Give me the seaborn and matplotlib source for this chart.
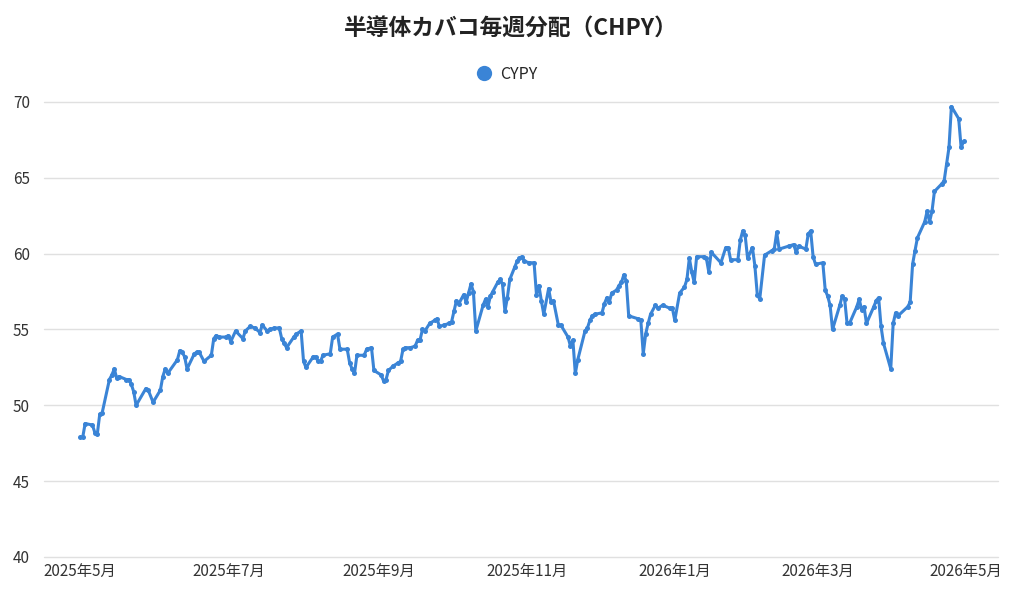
import matplotlib
matplotlib.use("Agg")
import matplotlib.pyplot as plt
from matplotlib.lines import Line2D
import pandas as pd
import seaborn as sns

# 半導体カバコ毎週分配 (CHPY) price
dates = [
    "2025-05-01", "2025-05-02", "2025-05-03", "2025-05-06", "2025-05-07", "2025-05-08",
    "2025-05-09", "2025-05-10", "2025-05-13", "2025-05-14", "2025-05-15", "2025-05-16",
    "2025-05-17", "2025-05-20", "2025-05-21", "2025-05-22", "2025-05-23", "2025-05-24",
    "2025-05-28", "2025-05-29", "2025-05-31", "2025-06-03", "2025-06-04", "2025-06-05",
    "2025-06-06", "2025-06-10", "2025-06-11", "2025-06-12", "2025-06-13", "2025-06-14",
    "2025-06-17", "2025-06-18", "2025-06-19", "2025-06-21", "2025-06-24", "2025-06-25",
    "2025-06-26", "2025-06-27", "2025-06-30", "2025-07-01", "2025-07-02", "2025-07-04",
    "2025-07-07", "2025-07-08", "2025-07-10", "2025-07-12", "2025-07-14", "2025-07-15",
    "2025-07-17", "2025-07-18", "2025-07-20", "2025-07-22", "2025-07-23", "2025-07-24",
    "2025-07-25", "2025-07-28", "2025-07-29", "2025-07-31", "2025-08-01", "2025-08-02",
    "2025-08-05", "2025-08-06", "2025-08-07", "2025-08-08", "2025-08-09", "2025-08-12",
    "2025-08-13", "2025-08-15", "2025-08-16", "2025-08-19", "2025-08-20", "2025-08-21",
    "2025-08-22", "2025-08-23", "2025-08-26", "2025-08-27", "2025-08-29", "2025-08-30",
    "2025-09-02", "2025-09-03", "2025-09-04", "2025-09-05", "2025-09-07", "2025-09-09",
    "2025-09-10", "2025-09-11", "2025-09-12", "2025-09-14", "2025-09-16", "2025-09-17",
    "2025-09-18", "2025-09-19", "2025-09-20", "2025-09-22", "2025-09-24", "2025-09-25",
    "2025-09-26", "2025-09-28", "2025-09-30", "2025-10-01", "2025-10-02", "2025-10-03",
    "2025-10-04", "2025-10-06", "2025-10-07", "2025-10-08", "2025-10-09", "2025-10-10",
    "2025-10-11", "2025-10-14", "2025-10-15", "2025-10-16", "2025-10-17", "2025-10-18",
    "2025-10-20", "2025-10-21", "2025-10-22", "2025-10-23", "2025-10-24", "2025-10-25",
    "2025-10-27", "2025-10-28", "2025-10-29", "2025-10-30", "2025-10-31", "2025-11-02",
    "2025-11-04", "2025-11-05", "2025-11-06", "2025-11-07", "2025-11-08", "2025-11-10",
    "2025-11-11", "2025-11-12", "2025-11-14", "2025-11-15", "2025-11-18", "2025-11-19",
    "2025-11-20", "2025-11-21", "2025-11-22", "2025-11-25", "2025-11-26", "2025-11-27",
    "2025-11-28", "2025-11-29", "2025-12-02", "2025-12-03", "2025-12-04", "2025-12-05",
    "2025-12-06", "2025-12-08", "2025-12-09", "2025-12-10", "2025-12-11", "2025-12-12",
    "2025-12-13", "2025-12-17", "2025-12-18", "2025-12-19", "2025-12-20", "2025-12-21",
    "2025-12-22", "2025-12-24", "2025-12-25", "2025-12-27", "2025-12-30", "2025-12-31",
    "2026-01-01", "2026-01-03", "2026-01-05", "2026-01-06", "2026-01-07", "2026-01-08",
    "2026-01-09", "2026-01-10", "2026-01-13", "2026-01-14", "2026-01-15", "2026-01-16",
    "2026-01-20", "2026-01-22", "2026-01-23", "2026-01-24", "2026-01-27", "2026-01-28",
    "2026-01-29", "2026-01-30", "2026-01-31", "2026-02-02", "2026-02-03", "2026-02-04",
    "2026-02-05", "2026-02-07", "2026-02-10", "2026-02-11", "2026-02-12", "2026-02-13",
    "2026-02-17", "2026-02-19", "2026-02-20", "2026-02-21", "2026-02-24", "2026-02-25",
    "2026-02-26", "2026-02-27", "2026-02-28", "2026-03-03", "2026-03-04", "2026-03-05",
    "2026-03-06", "2026-03-07", "2026-03-10", "2026-03-11", "2026-03-12", "2026-03-13",
    "2026-03-14", "2026-03-17", "2026-03-18", "2026-03-19", "2026-03-20", "2026-03-21",
    "2026-03-24", "2026-03-25", "2026-03-26", "2026-03-27", "2026-03-28", "2026-03-31",
    "2026-04-01", "2026-04-02", "2026-04-03", "2026-04-07", "2026-04-08", "2026-04-09",
    "2026-04-10", "2026-04-11", "2026-04-14", "2026-04-15", "2026-04-16", "2026-04-17",
    "2026-04-18", "2026-04-21", "2026-04-22", "2026-04-23", "2026-04-24", "2026-04-25",
    "2026-04-28", "2026-04-29", "2026-04-30",
]
prices = [
    47.9, 47.9, 48.8, 48.7, 48.2, 48.1,
    49.4, 49.5, 51.7, 52.0, 52.4, 51.8,
    51.9, 51.7, 51.7, 51.4, 50.9, 50.0,
    51.1, 51.0, 50.2, 51.0, 51.9, 52.4,
    52.1, 53.0, 53.6, 53.5, 53.2, 52.4,
    53.4, 53.5, 53.5, 52.9, 53.3, 54.4,
    54.6, 54.5, 54.5, 54.6, 54.2, 54.9,
    54.4, 54.9, 55.2, 55.1, 54.8, 55.3,
    54.9, 55.0, 55.1, 55.1, 54.4, 54.1,
    53.8, 54.5, 54.7, 54.9, 52.9, 52.5,
    53.2, 53.2, 52.9, 52.9, 53.3, 53.4,
    54.5, 54.7, 53.7, 53.7, 52.8, 52.4,
    52.1, 53.3, 53.3, 53.7, 53.8, 52.3,
    52.0, 51.6, 51.7, 52.3, 52.6, 52.8,
    52.9, 53.7, 53.8, 53.8, 53.9, 54.3,
    54.3, 55.0, 54.9, 55.4, 55.6, 55.7,
    55.2, 55.3, 55.4, 55.5, 56.2, 56.9,
    56.7, 57.3, 56.8, 57.4, 58.0, 57.5,
    54.9, 56.6, 57.0, 56.5, 57.2, 57.5,
    58.1, 58.3, 58.0, 56.2, 57.1, 58.3,
    59.1, 59.5, 59.7, 59.8, 59.5, 59.4,
    59.4, 57.3, 57.9, 56.9, 56.0, 57.7,
    56.8, 56.9, 55.3, 55.3, 54.5, 53.9,
    54.3, 52.1, 53.0, 54.9, 55.1, 55.6,
    55.9, 56.0, 56.1, 56.7, 57.1, 56.8,
    57.4, 57.6, 57.9, 58.1, 58.6, 58.2,
    55.9, 55.7, 55.6, 53.4, 54.7, 55.4,
    56.0, 56.6, 56.4, 56.6, 56.4, 56.4,
    55.6, 57.4, 57.8, 58.3, 59.7, 58.8,
    58.1, 59.8, 59.8, 59.7, 58.8, 60.1,
    59.4, 60.4, 60.4, 59.6, 59.6, 60.9,
    61.5, 61.2, 59.7, 60.4, 59.2, 57.3,
    57.0, 59.9, 60.2, 60.3, 61.4, 60.3,
    60.5, 60.6, 60.1, 60.5, 60.3, 61.3,
    61.5, 59.8, 59.3, 59.4, 57.6, 57.2,
    56.6, 55.0, 56.6, 57.2, 57.0, 55.4,
    55.4, 56.5, 57.0, 56.3, 56.5, 55.4,
    56.5, 56.9, 57.1, 55.2, 54.1, 52.4,
    55.4, 56.1, 55.9, 56.5, 56.8, 59.3,
    60.2, 61.05, 62.1, 62.8, 62.1, 62.8,
    64.1, 64.6, 64.8, 65.9, 67.0, 69.7,
    68.9, 67.0, 67.4,
]
series_name = "CYPY"
title = "半導体カバコ毎週分配（CHPY）"
tick_months = ["2025-05-01", "2025-07-01", "2025-09-01", "2025-11-01",
               "2026-01-01", "2026-03-01", "2026-05-01"]

df = pd.DataFrame({"date": pd.to_datetime(dates), "price": prices})

sns.set_theme(style="white")
plt.rcParams["font.family"] = ["Noto Sans CJK JP", "DejaVu Sans"]

color = "#3a84d6"
fig = plt.figure(figsize=(10.21, 6.0), dpi=100)
ax = fig.add_axes([0.043, 0.0717, 0.934, 0.7583])

sns.lineplot(data=df, x="date", y="price", ax=ax, color=color, linewidth=2.2,
             marker="o", markersize=3.6, markeredgewidth=0, legend=False)

ax.set_ylim(40, 70)
ax.set_yticks([40, 45, 50, 55, 60, 65, 70])
ax.set_xlim(pd.Timestamp("2025-04-16"), pd.Timestamp("2026-05-14"))
ticks = pd.to_datetime(tick_months)
ax.set_xticks(ticks)
ax.set_xticklabels([f"{t.year}年{t.month}月" for t in ticks])
ax.yaxis.grid(True, color="#e0e0e0", linewidth=1)
ax.xaxis.grid(False)
for gl in ax.get_ygridlines():
    gl.set_clip_on(False)
for s in ax.spines.values():
    s.set_visible(False)
ax.tick_params(axis="both", length=0, labelsize=11, colors="#333333")
ax.tick_params(axis="x", pad=4)
ax.tick_params(axis="y", pad=10)
ax.set_xlabel("")
ax.set_ylabel("")

fig.text(0.5, 0.952, title, ha="center", va="center", fontsize=16.4,
         fontweight="bold", color="#222222")
handle = Line2D([], [], marker="o", linestyle="none", markersize=11,
                color=color, markeredgewidth=0)
fig.legend([handle], [series_name], loc="center", bbox_to_anchor=(0.496, 0.876),
           frameon=False, fontsize=11.5, handletextpad=0.5, handlelength=1.0,
           borderpad=0)

fig.savefig("out.png", dpi=100)
